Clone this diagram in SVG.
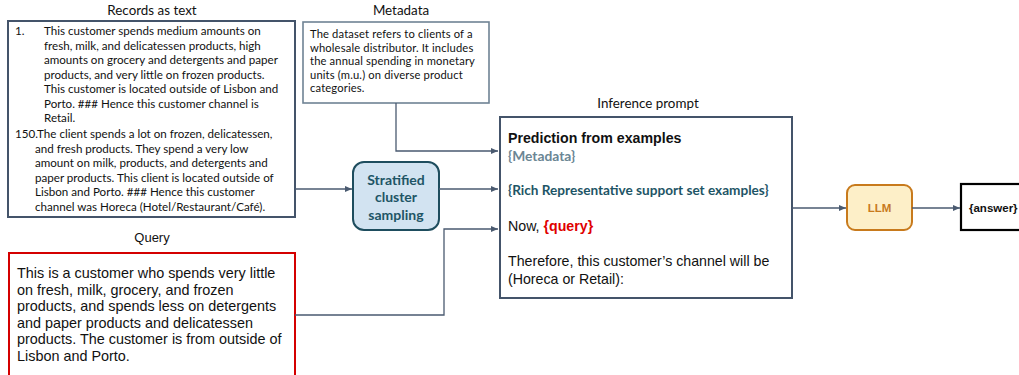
<svg xmlns="http://www.w3.org/2000/svg" width="1019" height="375" viewBox="0 0 1019 375">
<style>
.cal{font-family:Lato,"Open Sans","Liberation Sans",sans-serif;fill:#111}
.ar{font-family:"Liberation Sans",Arial,sans-serif;fill:#111}
.title{font-size:13.4px;text-anchor:middle}
.rec{font-size:11.6px}
.meta{font-size:11.2px;letter-spacing:0.15px}
.q{font-size:14.4px}
.conn{fill:none;stroke:#4a5a70;stroke-width:1.3}
</style>
<defs>
<marker id="ah" markerWidth="8" markerHeight="8" refX="7" refY="4" orient="auto" markerUnits="userSpaceOnUse">
<path d="M0,1 L7,4 L0,7 Z" fill="#4a5a70"/>
</marker>
</defs>
<g id="records">
<text class="cal title" x="152" y="15">Records as text</text>
<rect x="8" y="21" width="287" height="196" fill="#fff" stroke="#44546a" stroke-width="2"/>
<text class="cal rec" x="15" y="35">1.</text>
<text class="cal rec" x="44" y="35">This customer spends medium amounts on</text>
<text class="cal rec" x="44" y="49.5">fresh, milk, and delicatessen products, high</text>
<text class="cal rec" x="44" y="64">amounts on grocery and detergents and paper</text>
<text class="cal rec" x="44" y="78.5">products, and very little on frozen products.</text>
<text class="cal rec" x="44" y="93">This customer is located outside of Lisbon and</text>
<text class="cal rec" x="44" y="107.5">Porto. ### Hence this customer channel is</text>
<text class="cal rec" x="44" y="122">Retail.</text>
<text class="cal rec" x="15" y="138">150.The client spends a lot on frozen, delicatessen,</text>
<text class="cal rec" x="35" y="152.5">and fresh products. They spend a very low</text>
<text class="cal rec" x="35" y="167">amount on milk, products, and detergents and</text>
<text class="cal rec" x="35" y="181.5">paper products. This client is located outside of</text>
<text class="cal rec" x="35" y="196">Lisbon and Porto. ### Hence this customer</text>
<text class="cal rec" x="35" y="210.5">channel was Horeca (Hotel/Restaurant/Café).</text>
</g>
<g id="metadata">
<text class="cal title" x="401" y="15">Metadata</text>
<rect x="303" y="22" width="186" height="81" fill="#fff" stroke="#6f8394" stroke-width="1.6"/>
<text class="cal meta" x="310" y="38">The dataset refers to clients of a</text>
<text class="cal meta" x="310" y="51.5">wholesale distributor. It includes</text>
<text class="cal meta" x="310" y="65">the annual spending in monetary</text>
<text class="cal meta" x="310" y="78.5">units (m.u.) on diverse product</text>
<text class="cal meta" x="310" y="92">categories.</text>
</g>
<g id="stratified">
<rect x="353" y="162" width="86" height="68" rx="11" fill="#d2e3f1" stroke="#1e4d5e" stroke-width="2"/>
<text class="cal" x="396" y="185" font-size="14" font-weight="bold" text-anchor="middle" style="fill:#1e5566">Stratified</text>
<text class="cal" x="396" y="202" font-size="14" font-weight="bold" text-anchor="middle" style="fill:#1e5566">cluster</text>
<text class="cal" x="396" y="220" font-size="14" font-weight="bold" text-anchor="middle" style="fill:#1e5566">sampling</text>
</g>
<g id="prompt">
<text class="cal title" x="648" y="108">Inference prompt</text>
<rect x="500" y="117" width="292" height="181" fill="#fff" stroke="#44546a" stroke-width="2"/>
<text class="ar" x="508" y="143" font-size="14.2" font-weight="bold">Prediction from examples</text>
<text class="cal" x="508" y="161" font-size="13.8" font-weight="bold" style="fill:#6b8694">{Metadata}</text>
<text class="cal" x="508" y="195" font-size="13.6" font-weight="bold" style="fill:#1e5566">{Rich Representative support set examples}</text>
<text class="ar" x="508" y="231" font-size="14.2">Now, <tspan font-weight="bold" fill="#e00000">{query}</tspan></text>
<text class="ar" x="508" y="266" font-size="14.2">Therefore, this customer’s channel will be</text>
<text class="ar" x="508" y="284" font-size="14.2">(Horeca or Retail):</text>
</g>
<g id="llm">
<rect x="847" y="185" width="65" height="45" rx="8" fill="#fdefc8" stroke="#c87a1c" stroke-width="2"/>
<text class="ar" x="879.5" y="212" font-size="11.5" font-weight="bold" text-anchor="middle" style="fill:#c87a1c">LLM</text>
</g>
<g id="answer">
<rect x="961" y="184" width="70" height="46" fill="#fff" stroke="#000" stroke-width="2.2"/>
<text class="ar" x="969" y="212" font-size="11.5" font-weight="bold">{answer}</text>
</g>
<g id="query">
<text class="ar" x="152" y="242" font-size="13" text-anchor="middle">Query</text>
<rect x="9" y="253" width="286" height="130" fill="#fff" stroke="#d40000" stroke-width="2"/>
<text class="ar q" x="17" y="278">This is a customer who spends very little</text>
<text class="ar q" x="17" y="294.5">on fresh, milk, grocery, and frozen</text>
<text class="ar q" x="17" y="311">products, and spends less on detergents</text>
<text class="ar q" x="17" y="327.5">and paper products and delicatessen</text>
<text class="ar q" x="17" y="344">products. The customer is from outside of</text>
<text class="ar q" x="17" y="360.5">Lisbon and Porto.</text>
</g>
<g id="connectors">
<path class="conn" d="M396,103 V151 H498" marker-end="url(#ah)"/>
<path class="conn" d="M295,189 H352" marker-end="url(#ah)"/>
<path class="conn" d="M439,189 H498" marker-end="url(#ah)"/>
<path class="conn" d="M295,315 H444 V229 H498" marker-end="url(#ah)"/>
<path class="conn" d="M792,208 H846" marker-end="url(#ah)"/>
<path class="conn" d="M912,208 H960" marker-end="url(#ah)"/>
</g>
</svg>
